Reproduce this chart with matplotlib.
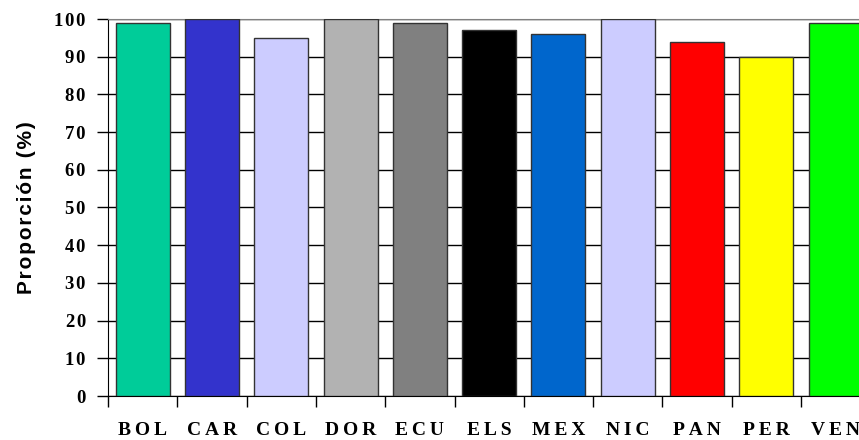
import matplotlib
matplotlib.use("Agg")
import matplotlib.pyplot as plt
import numpy as np

categories = ["BOL", "CAR", "COL", "DOR", "ECU", "ELS", "MEX", "NIC", "PAN", "PER", "VEN"]
values = [99, 100, 95, 100, 99, 97, 96, 100, 94, 90, 99]
colors = ["#00CC99", "#3333CC", "#CCCCFF", "#B2B2B2", "#808080", "#000000",
          "#0066CC", "#CCCCFF", "#FF0000", "#FFFF00", "#00FF00"]
yticks = [0, 10, 20, 30, 40, 50, 60, 70, 80, 90, 100]
ylabel = "Proporción (%)"

TS = "\u2009"  # thin space
HS = "\u200a"  # hair space
SERIF = ["Liberation Serif", "DejaVu Serif"]
SANS = ["Liberation Sans", "DejaVu Sans"]

W, H = 859, 440
fig = plt.figure(figsize=(W/100, H/100), dpi=100)
left, right, top, bottom = 108, 859, 19, 396
ax = fig.add_axes([left/W, 1 - bottom/H, (right-left)/W, (bottom-top)/H])

step = 69.3
x = np.arange(len(categories))
ax.bar(x, values, width=0.78, color=colors, edgecolor="#333333", linewidth=1.0, zorder=3)

ax.set_yticks(yticks)
ax.set_yticklabels([HS.join(str(v)) for v in yticks], fontfamily=SERIF,
                   fontweight="bold", fontsize=13.5)
ax.yaxis.grid(True, color="black", linewidth=1.0, zorder=0)
ax.set_axisbelow(True)

ax.set_xticks(np.arange(len(categories) + 1) - 0.5, minor=False)
ax.set_xticklabels([""] * (len(categories) + 1))
ax.set_xticks(x, minor=True)
ax.set_xticklabels([TS.join(c) for c in categories], minor=True,
                   fontfamily=SERIF, fontweight="bold", fontsize=14)
ax.tick_params(axis="x", which="minor", length=0, pad=19)
ax.tick_params(axis="x", which="major", length=8, width=1, color="black")
ax.tick_params(axis="y", length=8, width=1, color="black", pad=8)

ax.set_ylim(0, 100)
ax.set_xlim(-0.5, -0.5 + (right-left)/step)

ax.spines["right"].set_visible(False)
ax.spines["top"].set_color("#808080")
ax.spines["left"].set_color("black")
ax.spines["bottom"].set_color("black")

ax.set_ylabel(HS.join(ylabel), fontfamily=SANS, fontweight="bold",
              fontsize=15, labelpad=13)

fig.savefig("out.png", dpi=100)
